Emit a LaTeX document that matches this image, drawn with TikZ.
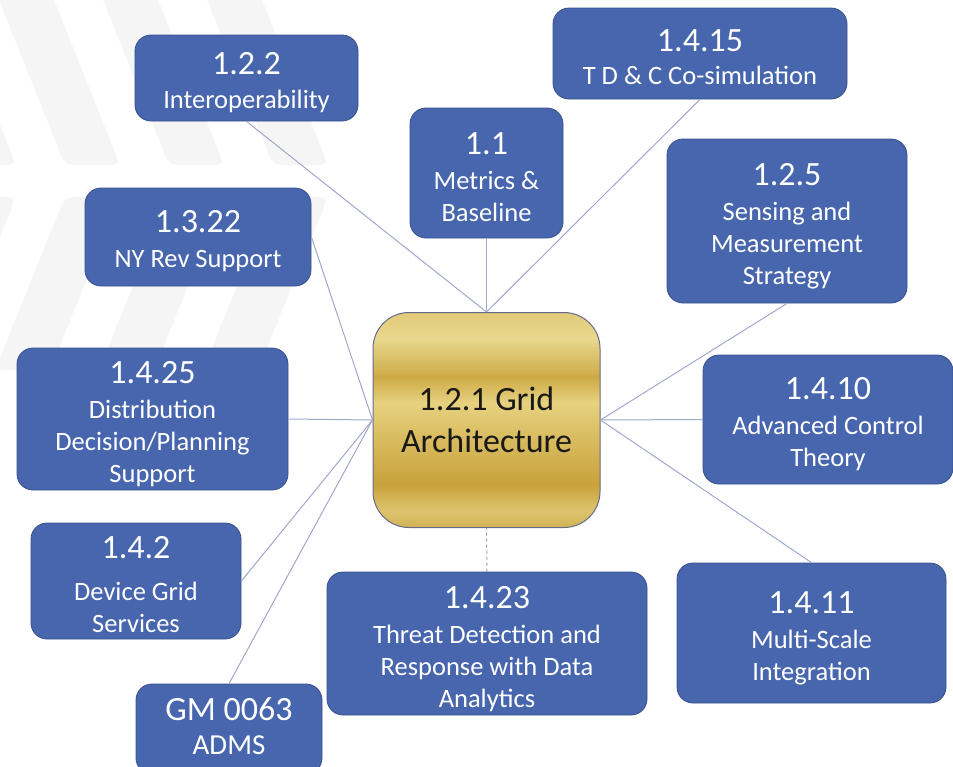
\documentclass[tikz,border=0pt]{standalone}
\usepackage{fontspec}
\setmainfont{Carlito}
\definecolor{boxblue}{RGB}{72,102,174}
\definecolor{boxline}{RGB}{55,80,140}
\definecolor{conn}{RGB}{160,168,204}
\definecolor{dashc}{RGB}{150,158,185}
\definecolor{stripe}{RGB}{245,245,246}
\definecolor{goldborder}{RGB}{100,108,140}
\definecolor{gA}{RGB}{224,202,118}
\definecolor{gB}{RGB}{233,216,142}
\definecolor{gC}{RGB}{206,170,70}
\definecolor{gD}{RGB}{231,210,128}
\definecolor{gE}{RGB}{220,192,102}
\definecolor{gF}{RGB}{200,162,58}
\definecolor{gG}{RGB}{222,196,110}
\definecolor{gH}{RGB}{210,178,85}
\pgfdeclareverticalshading{goldshade}{100bp}{%
 color(0bp)=(gH); color(25bp)=(gH); color(29bp)=(gG); color(35bp)=(gF);
 color(47.5bp)=(gE); color(54bp)=(gD); color(60bp)=(gC); color(69bp)=(gB);
 color(75bp)=(gA); color(100bp)=(gA)}
\newcommand\nm[1]{{\fontsize{34}{34}\selectfont #1}}
\tikzset{
  box/.style={draw=boxline, line width=0.8pt, fill=boxblue, rounded corners=16pt, inner sep=0pt},
  lbl/.style={text=white, align=center, inner sep=0pt, yshift=-5pt,
    font=\fontsize{26.5}{32}\selectfont},
  core/.style={draw=goldborder, line width=1pt, shading=goldshade, rounded corners=36pt,
    text=black!90, align=center, inner sep=0pt, font=\fontsize{34}{42}\selectfont},
  link/.style={draw=conn, line width=1pt},
  dlink/.style={draw=dashc, line width=1pt, dash pattern=on 3pt off 3pt},
  stripeband/.style={fill=stripe, draw=none, rounded corners=8pt}
}
\begin{document}
\begin{tikzpicture}[x=1pt,y=-1pt]
\useasboundingbox (0,0) rectangle (953,766);
\fill[white] (0,0) rectangle (953,766);
% faint background chevrons
\foreach \k in {-1,0,1,2}{
  \pgfmathsetmacro{\xo}{-5+104*\k}
  \fill[stripeband] (\xo,-10) -- (\xo+55,-10) -- (\xo+125,165) -- (\xo+70,165) -- cycle;
  \fill[stripeband] (\xo+70,197) -- (\xo+125,197) -- (\xo+55,370) -- (\xo,370) -- cycle;
}
% nodes
\node[core, minimum width=227pt, minimum height=215pt] (core) at (486.5,420) {1.2.1 Grid\\Architecture};
\node[box, minimum width=223pt, minimum height=86pt,
  label={[lbl]center:{\nm{1.2.2}\\[2pt] Interoperability}}] (b122) at (246.5,78) {};
\node[box, minimum width=294pt, minimum height=91pt,
  label={[lbl, yshift=1pt]center:{\nm{1.4.15}\\[1pt] T D \& C Co-simulation}}] (b1415) at (700,53.5) {};
\node[box, minimum width=153pt, minimum height=130pt,
  label={[lbl, yshift=1pt]center:{\nm{1.1}\\[3pt] Metrics \&\\ Baseline}}] (b11) at (486.5,173) {};
\node[box, minimum width=240pt, minimum height=164pt,
  label={[lbl]center:{\nm{1.2.5}\\[3pt] Sensing and\\ Measurement\\ Strategy}}] (b125) at (787,221) {};
\node[box, minimum width=226pt, minimum height=98pt,
  label={[lbl, yshift=1pt]center:{\nm{1.3.22}\\[3pt] NY Rev Support}}] (b1322) at (198,237) {};
\node[box, minimum width=271pt, minimum height=142pt,
  label={[lbl]center:{\nm{1.4.25}\\[3pt] Distribution\\ Decision/Planning\\ Support}}] (b1425) at (152.5,419) {};
\node[box, minimum width=250pt, minimum height=129pt,
  label={[lbl]center:{\nm{1.4.10}\\[3pt] Advanced Control\\ Theory}}] (b1410) at (828,419.5) {};
\node[box, minimum width=210pt, minimum height=116pt,
  label={[lbl, yshift=1pt]center:{\nm{1.4.2}\\[10pt] Device Grid\\ Services}}] (b142) at (136,581) {};
\node[box, minimum width=320pt, minimum height=143pt,
  label={[lbl, yshift=-1pt]center:{\nm{1.4.23}\\[3pt] Threat Detection and\\ Response with Data\\ Analytics}}] (b1423) at (487,643.5) {};
\node[box, minimum width=269pt, minimum height=140pt,
  label={[lbl]center:{\nm{1.4.11}\\[3pt] Multi-Scale\\ Integration}}] (b1411) at (811.5,633) {};
\node[box, minimum width=186pt, minimum height=90pt,
  label={[lbl, yshift=8pt]center:{\nm{GM 0063}\\[2pt] {\fontsize{29}{32}\selectfont ADMS}}}] (bgm) at (229,729) {};
% connectors
\draw[link] (b122.south) -- (core.north);
\draw[link] (b11.south) -- (core.north);
\draw[link] (b1415.south) -- (core.north);
\draw[link] (b1322.east) -- (core.west);
\draw[link] (b1425.east) -- (core.west);
\draw[link] (b142.east) -- (core.west);
\draw[link] (bgm.north) -- (core.west);
\draw[link] (b125.south) -- (core.east);
\draw[link] (b1410.west) -- (core.east);
\draw[link] (b1411.north) -- (core.east);
\draw[dlink] (b1423.north) -- (core.south);
\end{tikzpicture}
\end{document}
